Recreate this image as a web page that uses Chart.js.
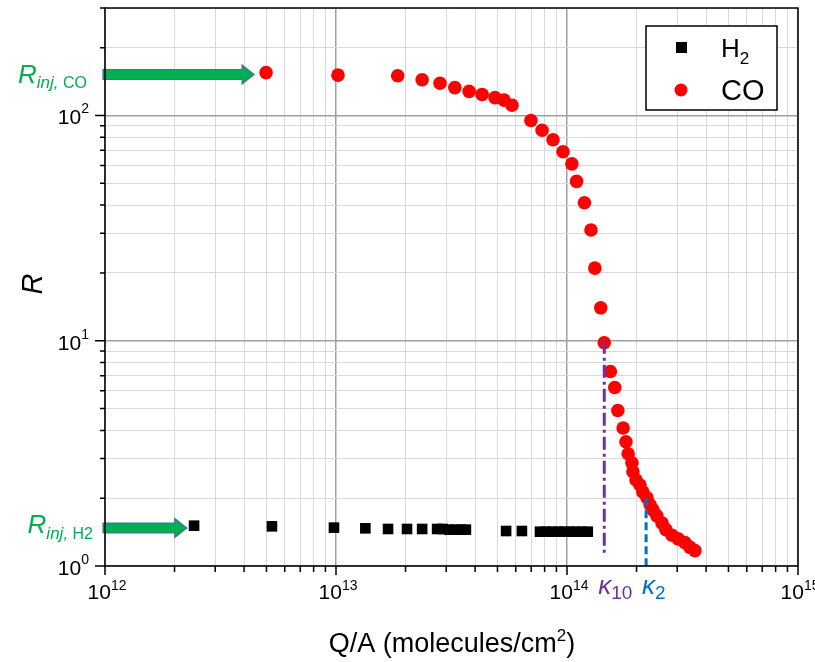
<!DOCTYPE html>
<html>
<head>
<meta charset="utf-8">
<script src="https://cdn.jsdelivr.net/npm/chart.js@4.4.1/dist/chart.umd.min.js"></script>
<style>
  html, body { margin: 0; padding: 0; background: #fff; }
  #wrap { width: 815px; height: 662px; position: relative; }
</style>
</head>
<body>
<div id="wrap"><canvas id="chart"></canvas></div>
<script>
// Data (Q/A in molecules/cm2, R dimensionless)
const coQA = [4.98e12, 1.02e13, 1.85e13, 2.36e13, 2.82e13, 3.27e13, 3.77e13, 4.29e13, 4.88e13, 5.34e13,
              5.78e13, 6.98e13, 7.80e13, 8.70e13, 9.61e13, 1.05e14, 1.10e14, 1.19e14, 1.27e14, 1.32e14,
              1.40e14, 1.45e14, 1.54e14, 1.61e14, 1.66e14, 1.75e14, 1.80e14, 1.84e14, 1.91e14, 1.93e14,
              1.99e14, 2.07e14, 2.13e14, 2.22e14, 2.29e14, 2.36e14, 2.45e14, 2.58e14, 2.68e14, 2.85e14,
              3.03e14, 3.24e14, 3.41e14, 3.58e14];
const coR = [155, 151, 150, 144, 139, 133, 128, 124, 120, 117,
             111, 95, 86, 78, 69, 61, 51, 41, 31, 21,
             14, 9.8, 7.3, 6.2, 4.9, 4.1, 3.56, 3.15, 2.87, 2.62,
             2.41, 2.29, 2.13, 2.01, 1.87, 1.77, 1.67, 1.55, 1.45, 1.37,
             1.32, 1.27, 1.21, 1.17];

const h2QA = [2.43e12, 5.28e12, 9.8e12, 1.34e13, 1.68e13, 2.03e13, 2.36e13, 2.74e13, 2.90e13, 3.09e13,
              3.27e13, 3.48e13, 3.65e13, 5.45e13, 6.38e13, 7.64e13, 8.11e13, 8.61e13, 9.14e13, 9.70e13,
              1.03e14, 1.09e14, 1.16e14, 1.23e14];
const h2R = [1.51, 1.50, 1.48, 1.47, 1.46, 1.46, 1.46, 1.46, 1.46, 1.45,
             1.45, 1.45, 1.45, 1.43, 1.43, 1.42, 1.42, 1.42, 1.42, 1.42,
             1.42, 1.42, 1.42, 1.42];

// kappa markers
const kappa10QA = [1.45e14, 1.45e14];
const kappa10R = [10, 1.12];
const kappa2QA = [2.2e14, 2.2e14];
const kappa2R = [2.0, 1.0];

// injection levels (green arrows)
const rInjCO = 152, rInjH2 = 1.475;
const arrowTipCO = 4.42e12, arrowTipH2 = 2.26e12;

// axes
const xDecades = [1e12, 1e13, 1e14, 1e15];
const xExps = ['12', '13', '14', '15'];
const yDecades = [1, 10, 100];
const yExps = ['0', '1', '2'];
const minorMult = [2, 3, 4, 5, 6, 7, 8, 9];
const yMax = 300;

const FONT = '"Liberation Sans", Arial, sans-serif';

function isMajor(v) {
    const l = Math.log10(v);
    return Math.abs(l - Math.round(l)) < 1e-6;
}

function buildLogTicks(decades, maxV) {
    const out = [];
    decades.forEach(d => {
        out.push(d);
        minorMult.forEach(m => { if (d * m <= maxV * 1.0001) out.push(d * m); });
    });
    return out.filter(v => v <= maxV * 1.0001).sort((a, b) => a - b);
}

function toPts(xs, ys) {
    return xs.map((x, i) => ({ x: x, y: ys[i] }));
}

// draw a run of text pieces with different fonts / offsets
function drawRich(ctx, parts, x, baseline, align) {
    let total = 0;
    parts.forEach(p => { ctx.font = p.font; p.w = ctx.measureText(p.text).width; total += p.w; });
    let cx = x;
    if (align === 'center') cx = x - total / 2;
    if (align === 'right') cx = x - total;
    ctx.textAlign = 'left';
    ctx.textBaseline = 'alphabetic';
    parts.forEach(p => {
        ctx.font = p.font;
        ctx.fillStyle = p.color || '#000';
        ctx.fillText(p.text, cx, baseline + (p.dy || 0));
        cx += p.w;
    });
}

function drawArrow(ctx, x0, x1, y) {
    const shaftH = 10, headH = 19, headL = 12;
    ctx.beginPath();
    ctx.moveTo(x0, y - shaftH / 2);
    ctx.lineTo(x1 - headL, y - shaftH / 2);
    ctx.lineTo(x1 - headL, y - headH / 2);
    ctx.lineTo(x1, y);
    ctx.lineTo(x1 - headL, y + headH / 2);
    ctx.lineTo(x1 - headL, y + shaftH / 2);
    ctx.lineTo(x0, y + shaftH / 2);
    ctx.closePath();
    ctx.fillStyle = '#00b050';
    ctx.fill();
    ctx.strokeStyle = '#41719c';
    ctx.lineWidth = 1.2;
    ctx.stroke();
}

// frame, ticks, tick labels, titles, arrows, legend
const decorations = {
    id: 'decorations',
    afterDatasetsDraw(chart) {
        const { ctx, chartArea: a, scales: { x, y } } = chart;
        ctx.save();

        // arrows + R_inj labels
        drawArrow(ctx, a.left - 2, x.getPixelForValue(arrowTipCO), y.getPixelForValue(rInjCO));
        drawArrow(ctx, a.left - 2, x.getPixelForValue(arrowTipH2), y.getPixelForValue(rInjH2));
        const green = '#00b050';
        const yCO = y.getPixelForValue(rInjCO);
        const yH2 = y.getPixelForValue(rInjH2);
        drawRich(ctx, [
            { text: 'R', font: 'italic 26px ' + FONT, color: green },
            { text: 'inj,', font: 'italic 17px ' + FONT, color: green, dy: 5 },
            { text: ' CO', font: '16px ' + FONT, color: green, dy: 5 }
        ], 87, yCO + 8, 'right');
        drawRich(ctx, [
            { text: 'R', font: 'italic 26px ' + FONT, color: green },
            { text: 'inj,', font: 'italic 17px ' + FONT, color: green, dy: 6 },
            { text: ' H2', font: '16px ' + FONT, color: green, dy: 6 }
        ], 93, yH2 + 5, 'right');

        // kappa labels
        drawRich(ctx, [
            { text: 'κ', font: 'italic 26px ' + FONT, color: '#7030a0' },
            { text: '10', font: '19px ' + FONT, color: '#7030a0', dy: 5 }
        ], x.getPixelForValue(kappa10QA[0]) - 6, 594, 'left');
        drawRich(ctx, [
            { text: 'κ', font: 'italic 26px ' + FONT, color: '#0070c0' },
            { text: '2', font: '19px ' + FONT, color: '#0070c0', dy: 5 }
        ], x.getPixelForValue(kappa2QA[0]) - 4, 594, 'left');

        ctx.restore();
    },
    afterDraw(chart) {
        const { ctx, chartArea: a, scales: { x, y } } = chart;
        ctx.save();

        // frame
        ctx.strokeStyle = '#000';
        ctx.lineWidth = 1.5;
        ctx.strokeRect(a.left, a.top, a.right - a.left, a.bottom - a.top);

        // tick marks (outside)
        ctx.beginPath();
        x.ticks.forEach(t => {
            const px = x.getPixelForValue(t.value);
            const len = isMajor(t.value) ? 9 : 6;
            ctx.moveTo(px, a.bottom);
            ctx.lineTo(px, a.bottom + len);
        });
        y.ticks.forEach(t => {
            const py = y.getPixelForValue(t.value);
            const len = isMajor(t.value) ? 10 : 5;
            ctx.moveTo(a.left, py);
            ctx.lineTo(a.left - len, py);
        });
        ctx.stroke();

        // tick labels
        xDecades.forEach((v, i) => {
            drawRich(ctx, [
                { text: '10', font: '21px ' + FONT },
                { text: xExps[i], font: '14px ' + FONT, dy: -9 }
            ], x.getPixelForValue(v) + 2, 599, 'center');
        });
        yDecades.forEach((v, i) => {
            drawRich(ctx, [
                { text: '10', font: '21px ' + FONT },
                { text: yExps[i], font: '14px ' + FONT, dy: -11 }
            ], 89, y.getPixelForValue(v) + 9, 'right');
        });

        // axis titles
        drawRich(ctx, [
            { text: 'Q/A (molecules/cm', font: '27px ' + FONT },
            { text: '2', font: '17px ' + FONT, dy: -11 },
            { text: ')', font: '27px ' + FONT }
        ], 452, 652, 'center');
        ctx.save();
        ctx.translate(42, 284);
        ctx.rotate(-Math.PI / 2);
        ctx.font = 'italic 29px ' + FONT;
        ctx.fillStyle = '#000';
        ctx.textAlign = 'center';
        ctx.textBaseline = 'alphabetic';
        ctx.fillText('R', 0, 0);
        ctx.restore();

        // legend box
        ctx.fillStyle = '#fff';
        ctx.fillRect(646, 26, 131, 84);
        ctx.strokeStyle = '#000';
        ctx.lineWidth = 1.5;
        ctx.strokeRect(646, 26, 131, 84);
        ctx.fillStyle = '#000';
        ctx.fillRect(676, 42, 11, 11);
        ctx.beginPath();
        ctx.arc(681, 90, 6.5, 0, Math.PI * 2);
        ctx.fillStyle = '#ff0000';
        ctx.fill();
        drawRich(ctx, [
            { text: 'H', font: '26px ' + FONT },
            { text: '2', font: '17px ' + FONT, dy: 7 }
        ], 721, 57, 'left');
        drawRich(ctx, [{ text: 'CO', font: '29px ' + FONT }], 721, 100, 'left');

        ctx.restore();
    }
};

const xTicks = buildLogTicks(xDecades, 1e15);
const yTicks = buildLogTicks(yDecades, yMax);

new Chart(document.getElementById('chart'), {
    type: 'scatter',
    data: {
        datasets: [
            {
                type: 'line',
                label: 'kappa10',
                data: toPts(kappa10QA, kappa10R),
                borderColor: '#7030a0',
                borderWidth: 3,
                borderDash: [13, 4, 3, 4],
                pointRadius: 0,
                fill: false,
                order: 0
            },
            {
                type: 'line',
                label: 'kappa2',
                data: toPts(kappa2QA, kappa2R),
                borderColor: '#0070c0',
                borderWidth: 3,
                borderDash: [8, 4],
                pointRadius: 0,
                fill: false,
                order: 0
            },
            {
                label: 'H2',
                data: toPts(h2QA, h2R),
                pointStyle: 'rect',
                pointRadius: 7.5,
                backgroundColor: '#000',
                borderColor: '#000',
                borderWidth: 0,
                order: 2
            },
            {
                label: 'CO',
                data: toPts(coQA, coR),
                pointStyle: 'circle',
                pointRadius: 6.8,
                backgroundColor: '#ff0000',
                borderColor: '#ff0000',
                borderWidth: 0,
                order: 1
            }
        ]
    },
    options: {
        responsive: true,
        maintainAspectRatio: false,
        animation: false,
        layout: { padding: { left: 105, right: 17, top: 8, bottom: 96 } },
        plugins: {
            legend: { display: false },
            tooltip: { enabled: false }
        },
        scales: {
            x: {
                type: 'logarithmic',
                min: 1e12,
                max: 1e15,
                afterBuildTicks: s => { s.ticks = xTicks.map(v => ({ value: v })); },
                ticks: { display: false },
                border: { display: false },
                grid: {
                    drawTicks: false,
                    color: c => isMajor(c.tick.value) ? '#a0a0a0' : '#d9d9d9',
                    lineWidth: c => isMajor(c.tick.value) ? 1.5 : 1
                }
            },
            y: {
                type: 'logarithmic',
                min: 1,
                max: yMax,
                afterBuildTicks: s => { s.ticks = yTicks.map(v => ({ value: v })); },
                ticks: { display: false },
                border: { display: false },
                grid: {
                    drawTicks: false,
                    color: c => isMajor(c.tick.value) ? '#a0a0a0' : '#d9d9d9',
                    lineWidth: c => isMajor(c.tick.value) ? 1.5 : 1
                }
            }
        }
    },
    plugins: [decorations]
});
</script>
</body>
</html>
